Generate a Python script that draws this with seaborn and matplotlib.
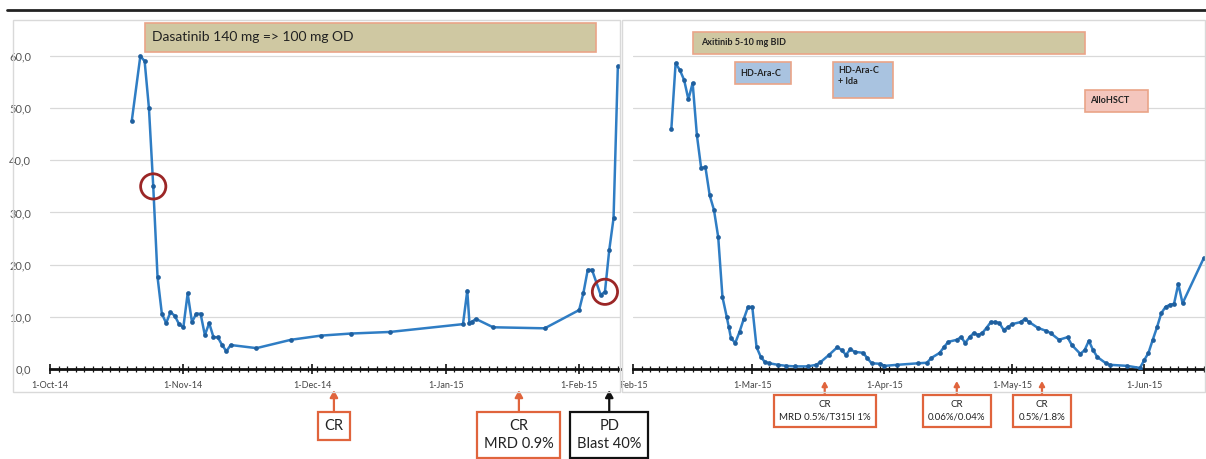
import pandas as pd
import matplotlib.pyplot as plt
import matplotlib.dates as mdates
import matplotlib.transforms as mtransforms
from matplotlib.patches import Rectangle
from matplotlib.lines import Line2D
from matplotlib.ticker import FuncFormatter
import seaborn as sns

# --- DATOS ---
left_dates = ['2014-10-20', '2014-10-22', '2014-10-23', '2014-10-24', '2014-10-25', '2014-10-26',
              '2014-10-27', '2014-10-28', '2014-10-29', '2014-10-30', '2014-10-31', '2014-11-01',
              '2014-11-02', '2014-11-03', '2014-11-04', '2014-11-05', '2014-11-06', '2014-11-07',
              '2014-11-08', '2014-11-09', '2014-11-10', '2014-11-11', '2014-11-12', '2014-11-18',
              '2014-11-26', '2014-12-03', '2014-12-10', '2014-12-19', '2015-01-05', '2015-01-06',
              '2015-01-06 12:00', '2015-01-07', '2015-01-08', '2015-01-12', '2015-01-24',
              '2015-02-01', '2015-02-02', '2015-02-03', '2015-02-04', '2015-02-06', '2015-02-07',
              '2015-02-08', '2015-02-09', '2015-02-10']
left_values = [47.5, 60.0, 59.0, 50.0, 35.0, 17.6,
               10.6, 8.8, 10.9, 10.2, 8.6, 8.0,
               14.5, 9.0, 10.6, 10.6, 6.5, 8.8,
               6.1, 6.1, 4.6, 3.4, 4.6, 4.0,
               5.6, 6.4, 6.8, 7.1, 8.6, 15.0,
               8.8, 9.0, 9.6, 8.0, 7.8,
               11.3, 14.6, 19.0, 19.0, 14.2, 14.8,
               22.8, 28.9, 58.0]

right_dates = ['2015-02-10', '2015-02-11', '2015-02-12', '2015-02-13', '2015-02-14', '2015-02-15',
               '2015-02-16', '2015-02-17', '2015-02-18', '2015-02-19', '2015-02-20', '2015-02-21',
               '2015-02-22', '2015-02-23', '2015-02-23 12:00', '2015-02-24', '2015-02-25',
               '2015-02-26', '2015-02-27', '2015-02-28', '2015-03-01', '2015-03-02', '2015-03-03',
               '2015-03-04', '2015-03-05', '2015-03-07', '2015-03-09', '2015-03-11', '2015-03-14',
               '2015-03-16', '2015-03-17', '2015-03-19', '2015-03-21', '2015-03-22', '2015-03-23',
               '2015-03-24', '2015-03-25', '2015-03-27', '2015-03-28', '2015-03-29', '2015-03-31',
               '2015-04-01', '2015-04-04', '2015-04-09', '2015-04-11', '2015-04-12', '2015-04-14',
               '2015-04-15', '2015-04-16', '2015-04-18', '2015-04-19', '2015-04-20', '2015-04-21',
               '2015-04-22', '2015-04-23', '2015-04-24', '2015-04-25', '2015-04-26', '2015-04-27',
               '2015-04-28', '2015-04-29', '2015-04-30', '2015-05-01', '2015-05-03', '2015-05-04',
               '2015-05-05', '2015-05-07', '2015-05-09', '2015-05-10', '2015-05-12', '2015-05-14',
               '2015-05-15', '2015-05-17', '2015-05-18', '2015-05-19', '2015-05-20', '2015-05-21',
               '2015-05-23', '2015-05-24', '2015-05-28', '2015-05-31', '2015-06-01', '2015-06-02',
               '2015-06-03', '2015-06-04', '2015-06-05', '2015-06-06', '2015-06-07', '2015-06-08',
               '2015-06-09', '2015-06-10', '2015-06-15']
right_values = [46.0, 58.6, 57.3, 55.4, 51.7, 54.8,
                44.8, 38.5, 38.7, 33.3, 30.5, 25.3,
                13.8, 10.0, 8.0, 5.9, 5.0,
                7.1, 9.6, 11.9, 11.9, 4.2, 2.3,
                1.3, 1.1, 0.8, 0.6, 0.5, 0.5,
                0.8, 1.3, 2.7, 4.2, 3.6, 2.7,
                3.8, 3.3, 3.1, 2.1, 1.1, 1.0,
                0.6, 0.8, 1.1, 1.2, 2.1, 3.1,
                4.2, 5.2, 5.6, 6.1, 5.0, 6.1,
                6.9, 6.5, 6.9, 7.9, 9.0, 9.0,
                8.8, 7.5, 8.0, 8.6, 9.0, 9.6,
                9.0, 7.9, 7.3, 6.9, 5.6, 6.1,
                4.6, 2.9, 3.6, 5.4, 3.6, 2.3,
                1.1, 0.8, 0.6, 0.2, 1.7, 3.1,
                5.6, 8.0, 10.7, 11.9, 12.3, 12.5,
                16.3, 12.6, 21.3]

circled_dates = ['2014-10-25', '2015-02-07']
circled_values = [35.0, 14.8]

left_ticks = ['2014-10-01', '2014-11-01', '2014-12-01', '2015-01-01', '2015-02-01']
left_tick_labels = ['1-Oct-14', '1-Nov-14', '1-Dec-14', '1-Jan-15', '1-Feb-15']
right_ticks = ['2015-02-01', '2015-03-01', '2015-04-01', '2015-05-01', '2015-06-01']
right_tick_labels = ['Feb-15', '1-Mar-15', '1-Apr-15', '1-May-15', '1-Jun-15']
y_ticks = [0, 10, 20, 30, 40, 50, 60]

# tratamientos: (texto, inicio, fin)
left_treatments = [('Dasatinib 140 mg => 100 mg OD', '2014-10-23', '2015-02-05')]
right_treatments = [('Axitinib 5-10 mg BID', '2015-02-15', '2015-05-18'),
                    ('HD-Ara-C', '2015-02-25', '2015-03-10'),
                    ('HD-Ara-C\n+ Ida', '2015-03-20', '2015-04-03'),
                    ('AlloHSCT', '2015-05-18', '2015-06-02')]

# respuestas: (texto, fecha)
left_responses = [('CR', '2014-12-06'), ('CR\nMRD 0.9%', '2015-01-18'), ('PD\nBlast 40%', '2015-02-08')]
right_responses = [('CR\nMRD 0.5%/T315I 1%', '2015-03-18'), ('CR\n0.06%/0.04%', '2015-04-18'),
                   ('CR\n0.5%/1.8%', '2015-05-08')]

# --- ESTILO ---
sns.set_style('white')
plt.rcParams['font.family'] = ['Lato', 'DejaVu Sans']

W, H = 1206, 459
LINE = '#2f7dc4'
ORANGE = '#e0643c'
TAN, TAN_EDGE = '#cfc8a2', '#eaa488'
BLUE = '#a9c3e0'
PINK = '#f4c6bd'


def to_dt(values):
    return pd.to_datetime(values, format='ISO8601')


fig = plt.figure(figsize=(W / 100, H / 100), dpi=100)
ax_h = (369 - 20) / H
ax1 = fig.add_axes([50 / W, (H - 369) / H, 570 / W, ax_h])
ax2 = fig.add_axes([633 / W, (H - 369) / H, 573 / W, ax_h])


def fy(ypx):
    return 1 - ypx / H


def draw_series(ax, dates, values):
    sns.lineplot(x=to_dt(dates), y=values, ax=ax, color=LINE, lw=1.8,
                 marker='o', markersize=3.4, markeredgewidth=0, markerfacecolor='#1f5f9e',
                 estimator=None, sort=False, zorder=3)


def style_axis(ax, start, end, ticks, labels, show_y):
    ax.set_xlim(pd.Timestamp(start), pd.Timestamp(end))
    ax.set_ylim(0, 66.9)
    ax.set_yticks(y_ticks)
    ax.yaxis.grid(True, color='#d9d9d9', lw=0.9)
    ax.set_axisbelow(True)
    for s in ['top', 'right', 'left']:
        ax.spines[s].set_visible(False)
    ax.spines['bottom'].set_color('#111111')
    ax.spines['bottom'].set_linewidth(2)
    ax.set_xticks(to_dt(ticks))
    ax.set_xticklabels(labels, fontsize=6.5, color='#444444')
    ax.xaxis.set_minor_locator(mdates.DayLocator(interval=2))
    ax.tick_params(axis='x', which='major', bottom=True, direction='inout', length=7, width=1.2,
                   color='#111111', pad=5)
    ax.tick_params(axis='x', which='minor', bottom=True, direction='inout', length=4, width=0.9,
                   color='#111111')
    if show_y:
        ax.yaxis.set_major_formatter(FuncFormatter(lambda v, _: f'{v:.1f}'.replace('.', ',')))
        ax.tick_params(axis='y', left=False, labelsize=8, labelcolor='#555555', pad=10)
    else:
        ax.tick_params(axis='y', left=False, labelleft=False)
    ax.set_xlabel('')
    ax.set_ylabel('')


def draw_treatment(ax, text, start, end, y0, y1, fc, fs, tx_off=1.5, va='center', bold=False):
    x0 = mdates.date2num(pd.Timestamp(start))
    x1 = mdates.date2num(pd.Timestamp(end))
    ax.add_patch(Rectangle((x0, y0), x1 - x0, y1 - y0, fc=fc, ec=TAN_EDGE, lw=1.2,
                           clip_on=False, zorder=4))
    ty = (y0 + y1) / 2 if va == 'center' else y1 - 0.8
    ax.text(x0 + tx_off, ty, text, ha='left', va=va, fontsize=fs, color='#222222',
            fontweight='bold' if bold else 'normal', zorder=5, linespacing=1.2)


def draw_response(ax, text, date, ytext_px, ytip_px, fs, color, pad):
    tr = mtransforms.blended_transform_factory(ax.transData, fig.transFigure)
    d = mdates.date2num(pd.Timestamp(date))
    ax.annotate(text, xy=(d, fy(ytip_px)), xycoords=tr, xytext=(d, fy(ytext_px)), textcoords=tr,
                ha='center', va='center', fontsize=fs, color='#222222', linespacing=1.45,
                annotation_clip=False,
                bbox=dict(boxstyle=f'square,pad={pad}', fc='white', ec=color, lw=1.6),
                arrowprops=dict(arrowstyle='-|>,head_width=0.22,head_length=0.4', color=color,
                                lw=1.6, shrinkA=0, shrinkB=0))


# --- PANEL IZQUIERDO ---
draw_series(ax1, left_dates, left_values)
style_axis(ax1, '2014-10-01', '2015-02-10 12:00', left_ticks, left_tick_labels, True)
ax1.scatter(to_dt(circled_dates), circled_values, s=330, facecolors='none',
            edgecolors='#9b2626', linewidths=2, zorder=6)
for text, start, end in left_treatments:
    draw_treatment(ax1, text, start, end, 60.8, 66.3, TAN, 10, tx_off=1.6)

draw_response(ax1, left_responses[0][0], left_responses[0][1], 426, 390, 10.5, ORANGE, 0.45)
draw_response(ax1, left_responses[1][0], left_responses[1][1], 435, 390, 10.5, ORANGE, 0.45)
draw_response(ax1, left_responses[2][0], left_responses[2][1], 435, 390, 10.5, '#111111', 0.45)

# --- PANEL DERECHO ---
draw_series(ax2, right_dates, right_values)
style_axis(ax2, '2015-02-01', '2015-06-15 12:00', right_ticks, right_tick_labels, False)
box_y = [(60.4, 64.6, TAN), (54.6, 58.8, BLUE), (51.9, 58.8, BLUE), (49.3, 53.5, PINK)]
for (text, start, end), (y0, y1, fc) in zip(right_treatments, box_y):
    va = 'top' if '\n' in text else 'center'
    off = 2.0 if text.startswith('Axitinib') else 1.2
    draw_treatment(ax2, text, start, end, y0, y1, fc, 6.5, tx_off=off, va=va, bold=True)

for text, date in right_responses:
    draw_response(ax2, text, date, 411, 381, 7, ORANGE, 0.55)

# --- MARCOS ---
fig.add_artist(Rectangle((13 / W, fy(392)), (620 - 13) / W, (392 - 20) / H, transform=fig.transFigure,
                         fill=False, ec='#d9d9d9', lw=1))
fig.add_artist(Rectangle((622 / W, fy(392)), (1205 - 622) / W, (392 - 20) / H, transform=fig.transFigure,
                         fill=False, ec='#d9d9d9', lw=1))
fig.add_artist(Line2D([7 / W, 1], [fy(10), fy(10)], transform=fig.transFigure, color='#222222', lw=2))

fig.savefig('out.png', dpi=100, facecolor='white')
